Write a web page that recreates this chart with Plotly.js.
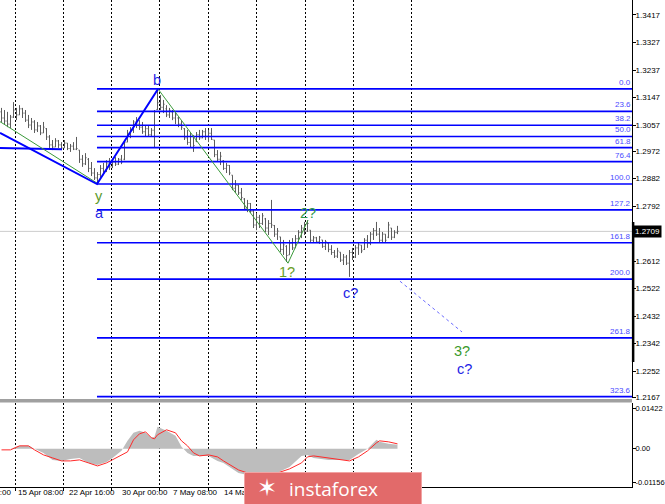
<!DOCTYPE html>
<html><head><meta charset="utf-8">
<script src="https://cdn.plot.ly/plotly-3.0.1.min.js"></script>
<style>html,body{margin:0;padding:0;background:#fff;}#chart{width:665px;height:504px;}</style>
</head><body><div id="chart"></div>
<script>
// ---------- price bars (H4) ----------
const high = [1.3113,1.3106,1.3100,1.3090,1.3132,1.3113,1.3122,1.3113,1.3106,1.3090,
1.3080,1.3073,1.3067,1.3057,1.3067,1.3047,1.3024,1.3008,1.3014,1.3008,
1.3001,1.3008,1.2998,1.2995,1.3001,1.3018,1.2975,1.2959,1.2965,1.2949,
1.2936,1.2916,1.2903,1.2926,1.2933,1.2942,1.2949,1.2942,1.2952,1.2949,
1.2959,1.3008,1.3041,1.3050,1.3073,1.3083,1.3073,1.3067,1.3054,1.3057,
1.3047,1.3106,1.3175,1.3155,1.3139,1.3122,1.3113,1.3106,1.3100,1.3083,
1.3073,1.3047,1.3041,1.3034,1.3024,1.3034,1.3041,1.3041,1.3047,1.3041,
1.3047,1.3008,1.2975,1.2969,1.2942,1.2933,1.2926,1.2893,1.2877,1.2861,
1.2851,1.2818,1.2812,1.2802,1.2779,1.2769,1.2763,1.2769,1.2753,1.2746,
1.2812,1.2730,1.2720,1.2691,1.2681,1.2664,1.2681,1.2687,1.2697,1.2713,
1.2730,1.2740,1.2746,1.2713,1.2694,1.2691,1.2694,1.2681,1.2681,1.2674,
1.2664,1.2648,1.2655,1.2641,1.2635,1.2632,1.2648,1.2655,1.2664,1.2674,
1.2664,1.2687,1.2697,1.2707,1.2720,1.2740,1.2720,1.2707,1.2700,1.2740,
1.2720,1.2713,1.2727];
const low = [1.3067,1.3057,1.3050,1.3047,1.3080,1.3073,1.3090,1.3080,1.3067,1.3047,
1.3041,1.3031,1.3034,1.3024,1.3031,1.3008,1.2982,1.2975,1.2985,1.2982,
1.2975,1.2982,1.2975,1.2969,1.2975,1.2975,1.2933,1.2920,1.2926,1.2903,
1.2890,1.2877,1.2864,1.2884,1.2893,1.2903,1.2910,1.2916,1.2923,1.2926,
1.2929,1.2942,1.3001,1.3014,1.3031,1.3047,1.3041,1.3028,1.3021,1.3018,
1.3021,1.2985,1.3106,1.3106,1.3096,1.3083,1.3080,1.3073,1.3060,1.3050,
1.3041,1.3008,1.2992,1.2985,1.2969,1.3001,1.3008,1.3014,1.3008,1.3001,
1.3008,1.2952,1.2936,1.2926,1.2910,1.2900,1.2893,1.2844,1.2835,1.2828,
1.2812,1.2779,1.2772,1.2769,1.2720,1.2713,1.2720,1.2730,1.2707,1.2697,
1.2720,1.2691,1.2681,1.2641,1.2632,1.2609,1.2632,1.2648,1.2655,1.2674,
1.2687,1.2697,1.2707,1.2674,1.2671,1.2671,1.2668,1.2655,1.2648,1.2641,
1.2632,1.2622,1.2622,1.2609,1.2599,1.2599,1.2560,1.2615,1.2622,1.2632,
1.2638,1.2648,1.2655,1.2664,1.2681,1.2694,1.2674,1.2674,1.2674,1.2687,
1.2681,1.2687,1.2700];
const open = [1.3100,1.3080,1.3070,1.3060,1.3083,1.3106,1.3090,1.3110,1.3096,1.3073,
1.3057,1.3067,1.3041,1.3054,1.3031,1.3045,1.3018,1.2992,1.2985,1.3005,
1.2992,1.2982,1.2998,1.2980,1.2988,1.2978,1.2975,1.2945,1.2930,1.2945,
1.2915,1.2900,1.2884,1.2895,1.2915,1.2905,1.2930,1.2920,1.2936,1.2929,
1.2945,1.2945,1.3001,1.3030,1.3040,1.3067,1.3060,1.3050,1.3035,1.3045,
1.3025,1.3040,1.3108,1.3130,1.3115,1.3110,1.3090,1.3100,1.3080,1.3080,
1.3060,1.3045,1.3015,1.3000,1.3020,1.3005,1.3025,1.3015,1.3035,1.3020,
1.3030,1.3008,1.2960,1.2945,1.2940,1.2915,1.2925,1.2893,1.2850,1.2860,
1.2835,1.2815,1.2785,1.2800,1.2775,1.2730,1.2755,1.2735,1.2750,1.2720,
1.2735,1.2728,1.2700,1.2691,1.2650,1.2660,1.2632,1.2670,1.2655,1.2685,
1.2705,1.2720,1.2710,1.2713,1.2680,1.2688,1.2675,1.2681,1.2660,1.2670,
1.2650,1.2640,1.2628,1.2641,1.2615,1.2625,1.2605,1.2640,1.2625,1.2655,
1.2664,1.2650,1.2680,1.2670,1.2700,1.2712,1.2700,1.2680,1.2700,1.2690,
1.2720,1.2690,1.2705];
const close = [1.3080,1.3070,1.3060,1.3083,1.3106,1.3090,1.3110,1.3096,1.3073,1.3057,
1.3067,1.3041,1.3054,1.3031,1.3050,1.3018,1.2992,1.2985,1.3005,1.2992,
1.2982,1.2998,1.2980,1.2988,1.2978,1.2980,1.2945,1.2930,1.2950,1.2915,
1.2900,1.2884,1.2895,1.2915,1.2905,1.2930,1.2920,1.2936,1.2929,1.2945,
1.2936,1.3001,1.3030,1.3040,1.3067,1.3060,1.3050,1.3035,1.3045,1.3025,
1.3040,1.3100,1.3130,1.3115,1.3125,1.3090,1.3105,1.3080,1.3090,1.3060,
1.3050,1.3015,1.3000,1.3020,1.2990,1.3025,1.3015,1.3035,1.3020,1.3030,
1.3010,1.2960,1.2945,1.2955,1.2915,1.2925,1.2900,1.2850,1.2860,1.2835,
1.2820,1.2785,1.2800,1.2775,1.2730,1.2755,1.2735,1.2760,1.2720,1.2735,
1.2730,1.2700,1.2710,1.2650,1.2665,1.2630,1.2670,1.2655,1.2685,1.2705,
1.2720,1.2710,1.2735,1.2680,1.2688,1.2675,1.2690,1.2660,1.2675,1.2650,
1.2640,1.2628,1.2645,1.2615,1.2625,1.2605,1.2640,1.2625,1.2655,1.2665,
1.2645,1.2680,1.2670,1.2700,1.2712,1.2700,1.2680,1.2700,1.2680,1.2730,
1.2690,1.2705,1.2709];
const barIdx = high.map((_, i) => i);

// ---------- MACD sub-window ----------
const macdIdx = [0,3,6,9,11,14,17,20,23,26,29,32,35,37,40,42,44,46,48,50,51,52,55,58,60,62,64,66,69,72,74,77,79,82,86,91,96,100,102,104,109,113,116,119,122,125,126,129,132];
const macdHist = [0,0,0.00105,0.00105,0,-0.0014,-0.00385,-0.0042,-0.0035,-0.00315,-0.0049,-0.0056,-0.00455,-0.00315,-0.0007,0.0028,0.0056,0.0063,0.0056,0.00385,0.0042,0.0077,0.0063,0.00455,0.0007,-0.0014,-0.00245,-0.00245,-0.00245,-0.0042,-0.0049,-0.007,-0.0084,-0.0091,-0.0098,-0.00875,-0.0063,-0.00245,-0.0021,-0.00315,-0.00385,-0.00385,-0.00385,-0.00175,0,0.00315,0.00245,0.00175,0.0014];
const macdSignal = [-0.00035,-0.00035,0.00105,0.00105,-0.00035,-0.0021,-0.00315,-0.0042,-0.0042,-0.00385,-0.0049,-0.00595,-0.0049,-0.00385,-0.0021,-0.00105,0.00315,0.00525,0.00595,0.00385,0.0035,0.0049,0.00665,0.0056,0.0028,0.00105,-0.0014,-0.00245,-0.0021,-0.0028,-0.0042,-0.00595,-0.00735,-0.0084,-0.0091,-0.00875,-0.007,-0.0049,-0.0028,-0.00245,-0.00315,-0.00385,-0.0042,-0.0028,-0.0007,0.0021,0.0028,0.00245,0.00175];
const macdTicks = [0.01422, 0, -0.01156];
const macdTickText = ['0.01422', '0.00', '-0.01156'];

// ---------- Fibonacci ----------
const fibHigh = 1.3175, fibLow = 1.2864;
const fibLevels = [0, 23.6, 38.2, 50, 61.8, 76.4, 100, 127.2, 161.8, 200, 261.8, 323.6];
const fibStartIdx = 31.83;

// ---------- wave lines ----------
const waveBlueX = [-0.5, 31.83, 52.17];
const waveBlueY = [1.3031, 1.2864, 1.3175];
const leftBlueX = [-0.5, 20.17];
const leftBlueY = [1.2982, 1.2978];
const greenAX = [-0.5, 31.83];
const greenAY = [1.3068, 1.2867];
const greenBX = [52.17, 95.5, 102.17];
const greenBY = [1.3175, 1.2605, 1.2746];
const projX = [132.83, 153.5];
const projY = [1.2546, 1.2380];

// ---------- wave labels ----------
const waveText  = ['b', 'y', 'a', '1?', '2?', 'c?', '3?', 'c?'];
const waveLblX  = [51.8, 32.5, 32.8, 95.2, 102.2, 116.2, 153.5, 154.5];
const waveLblY  = [1.3204, 1.2824, 1.2769, 1.2576, 1.2769, 1.2507, 1.2317, 1.2259];
const waveColor = ['#1e1ee6', '#5a9a2a', '#1e1ee6', '#6a9e26', '#2e9a4a', '#1e1ee6', '#3a9a2a', '#1e1ee6'];

// ---------- axes ----------
const priceTicks = [1.3417, 1.3327, 1.3237, 1.3147, 1.3057, 1.2972, 1.2882, 1.2792, 1.2612, 1.2522, 1.2432, 1.2342, 1.2252, 1.2167];
const gridIdx = [4.5, 20.6, 36.7, 52.83, 68.93, 85.07, 101.17, 117.27, 136.83];
const dateLabels = ['8 Apr 00:00', '15 Apr 08:00', '22 Apr 16:00', '30 Apr 00:00', '7 May 08:00', '14 May 16:00'];
const dateLabelIdx = [-11.2, 5.0, 22.0, 39.6, 56.6, 73.6];

const xRange = [-0.5, 210.17];
const toPaperX = v => (v - xRange[0]) / (xRange[1] - xRange[0]);
const lastClose = close[close.length - 1];
const axFont = {family: 'Liberation Sans, Arial, sans-serif', size: 8, color: '#000'};

const traces = [];
traces.push({type: 'ohlc', x: barIdx, open: open, high: high, low: low, close: close,
  increasing: {line: {color: '#5c5c5c', width: 1}}, decreasing: {line: {color: '#5c5c5c', width: 1}},
  tickwidth: 0.35, hoverinfo: 'skip', xaxis: 'x', yaxis: 'y'});

fibLevels.forEach(L => {
  const p = fibHigh - L / 100 * (fibHigh - fibLow);
  traces.push({type: 'scatter', mode: 'lines', x: [fibStartIdx, xRange[1]], y: [p, p],
    line: {color: '#0000ff', width: 1.7}, hoverinfo: 'skip', xaxis: 'x', yaxis: 'y'});
});
traces.push({type: 'scatter', mode: 'lines', x: leftBlueX, y: leftBlueY, line: {color: '#0000ff', width: 2}, hoverinfo: 'skip'});
traces.push({type: 'scatter', mode: 'lines', x: greenAX, y: greenAY, line: {color: '#3a9a3a', width: 1}, hoverinfo: 'skip'});
traces.push({type: 'scatter', mode: 'lines', x: greenBX, y: greenBY, line: {color: '#3a9a3a', width: 1}, hoverinfo: 'skip'});
traces.push({type: 'scatter', mode: 'lines', x: waveBlueX, y: waveBlueY, line: {color: '#0000ff', width: 2}, hoverinfo: 'skip'});
traces.push({type: 'scatter', mode: 'lines', x: projX, y: projY, line: {color: '#6a6aff', width: 1, dash: '3px,3px'}, hoverinfo: 'skip'});

traces.push({type: 'scatter', mode: 'lines', x: macdIdx, y: macdHist, fill: 'tozeroy', fillcolor: '#bdbdbd',
  line: {width: 0, color: '#bdbdbd'}, hoverinfo: 'skip', xaxis: 'x2', yaxis: 'y2'});
traces.push({type: 'scatter', mode: 'lines', x: macdIdx, y: macdSignal,
  line: {width: 1, color: '#ff2a2a'}, hoverinfo: 'skip', xaxis: 'x2', yaxis: 'y2'});

const annotations = [];
fibLevels.forEach(L => {
  const p = fibHigh - L / 100 * (fibHigh - fibLow);
  annotations.push({xref: 'paper', yref: 'y', x: 1, y: p, xanchor: 'right', yanchor: 'bottom',
    text: L.toFixed(1), showarrow: false, borderpad: 0, yshift: 1,
    font: {family: 'Liberation Sans, Arial, sans-serif', size: 8, color: '#4a4aff'}});
});
waveText.forEach((t, i) => {
  annotations.push({xref: 'x', yref: 'y', x: waveLblX[i], y: waveLblY[i], text: t, showarrow: false,
    xanchor: 'center', yanchor: 'middle', borderpad: 0,
    font: {family: 'Liberation Sans, Arial, sans-serif', size: 14.5, color: waveColor[i]}});
});
dateLabels.forEach((t, i) => {
  annotations.push({xref: 'paper', yref: 'paper', x: toPaperX(dateLabelIdx[i]), y: -0.0123, text: t,
    showarrow: false, xanchor: 'left', yanchor: 'middle', font: axFont});
});
annotations.push({xref: 'paper', yref: 'y', x: 1, xshift: 1, y: lastClose, text: lastClose.toFixed(4),
  showarrow: false, xanchor: 'left', yanchor: 'middle', bgcolor: '#000', borderpad: 1,
  font: {family: 'Liberation Sans, Arial, sans-serif', size: 8, color: '#fff'}});
// watermark
annotations.push({xref: 'paper', yref: 'paper', x: 0.3861, y: 0.0308, xanchor: 'left', yanchor: 'top',
  width: 176, height: 36, bgcolor: '#e26a6a', bordercolor: '#f1a3a3', borderwidth: 1, borderpad: 0,
  text: ' ', showarrow: false, font: {size: 10, color: '#ffffff'}});
annotations.push({xref: 'paper', yref: 'paper', x: 0.5269, y: -0.004, xanchor: 'center', yanchor: 'middle',
  text: 'instaforex', showarrow: false,
  font: {family: 'Open Sans, Liberation Sans, sans-serif', size: 19, color: '#ffffff'}});
annotations.push({xref: 'paper', yref: 'paper', x: 0.4225, y: -0.002, xanchor: 'center', yanchor: 'middle',
  text: '✶', showarrow: false, font: {family: 'DejaVu Sans', size: 24, color: '#ffffff'}});

const shapes = [
  {type: 'line', xref: 'paper', yref: 'y', x0: 0, x1: 1, y0: lastClose, y1: lastClose, line: {color: '#cccccc', width: 1}, layer: 'below'},
  {type: 'rect', xref: 'paper', yref: 'paper', x0: 0, x1: 1, y0: 0.1735, y1: 0.1807, fillcolor: '#a0a0a0', line: {width: 0}},
  {type: 'line', xref: 'paper', yref: 'paper', x0: 1.0018, x1: 1.0018, y0: 0.2567, y1: 0.5441, line: {color: '#000', width: 2.5}}
];

const layout = {
  width: 665, height: 504, autosize: false,
  margin: {l: 0, r: 33, t: 0, b: 17, pad: 0},
  paper_bgcolor: '#fff', plot_bgcolor: '#fff', showlegend: false,
  xaxis: {domain: [0, 1], anchor: 'y', range: xRange, tickvals: gridIdx, showticklabels: false, ticks: '',
    showgrid: true, gridcolor: '#000', griddash: '2px,2px', gridwidth: 1, zeroline: false, showline: false,
    rangeslider: {visible: false}, fixedrange: true},
  xaxis2: {domain: [0, 1], anchor: 'y2', range: xRange, tickvals: gridIdx, showticklabels: false,
    ticks: 'outside', ticklen: 3, tickcolor: '#000', showgrid: true, gridcolor: '#000', griddash: '2px,2px',
    gridwidth: 1, zeroline: false, showline: true, linecolor: '#000', linewidth: 1},
  yaxis: {domain: [0.1828, 1], anchor: 'x', side: 'right', range: [1.2164, 1.3466], tickvals: priceTicks,
    ticktext: priceTicks.map(v => v.toFixed(4)), ticks: 'outside', ticklen: 3, tickcolor: '#000',
    showline: true, linecolor: '#000', linewidth: 1, showgrid: false, zeroline: false, tickfont: axFont,
    ticklabelstandoff: -2},
  yaxis2: {domain: [0, 0.1725], anchor: 'x2', side: 'right', range: [-0.0133, 0.0160], tickvals: macdTicks,
    ticktext: macdTickText, ticks: 'outside', ticklen: 3, tickcolor: '#000', showline: true, linecolor: '#000',
    linewidth: 1, showgrid: false, zeroline: false, tickfont: {family: 'Liberation Sans, Arial, sans-serif', size: 7.5, color: '#000'},
    ticklabelstandoff: -2},
  annotations: annotations, shapes: shapes
};

Plotly.newPlot('chart', traces, layout, {staticPlot: true, displayModeBar: false});
</script>
</body></html>
